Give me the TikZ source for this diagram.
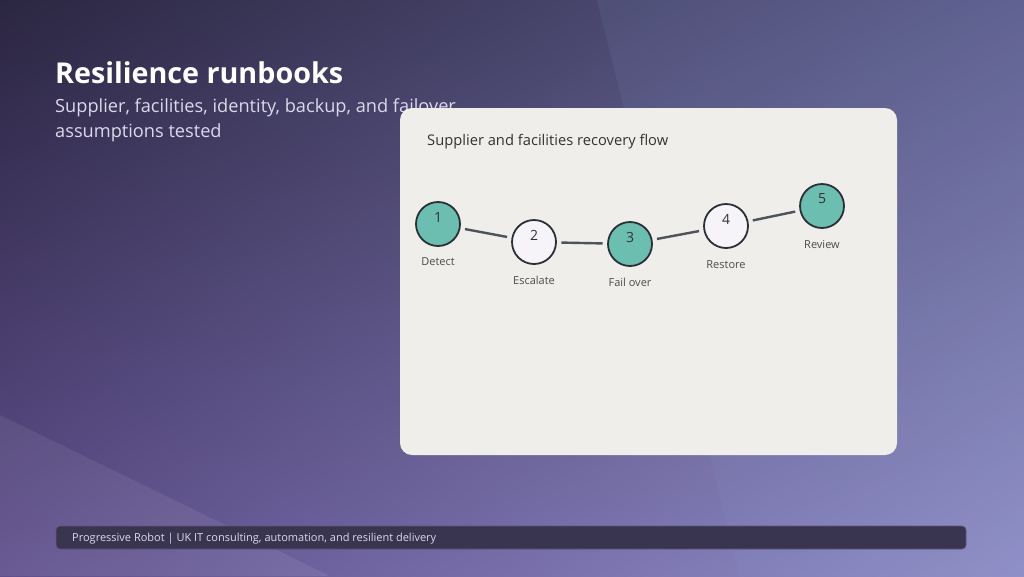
\documentclass[tikz,border=0pt]{standalone}
\usepackage{fontspec}
\usetikzlibrary{shadings}
\setmainfont{Open Sans}
\definecolor{bgUL}{HTML}{2B2641}
\definecolor{bgUR}{HTML}{5C5C8A}
\definecolor{bgLL}{HTML}{5E4E8C}
\definecolor{bgLR}{HTML}{9290C8}
\definecolor{cardfill}{HTML}{EFEEEB}
\definecolor{teal}{HTML}{6BBEB0}
\definecolor{pale}{HTML}{F6F4F9}
\definecolor{ring}{HTML}{2A3036}
\definecolor{connc}{HTML}{4D5359}
\definecolor{footfill}{HTML}{393550}
\definecolor{footdraw}{HTML}{5C5679}
\definecolor{subc}{HTML}{DCD8EC}
\tikzset{
  stepnode/.style={circle, draw=ring, line width=1.8pt, minimum size=44pt, inner sep=0pt},
  tealnode/.style={stepnode, fill=teal},
  palenode/.style={stepnode, fill=pale},
  numtext/.style={font=\fontsize{14}{16}\selectfont, text=black!80},
  steplabel/.style={font=\fontsize{11}{13}\selectfont, text=black!70},
  conn/.style={draw=connc, line width=2.4pt, shorten <=4.5pt, shorten >=4.5pt},
}
\begin{document}
\begin{tikzpicture}[x=1pt,y=-1pt]
\useasboundingbox (0,0) rectangle (1024,576);
% background
\shade[upper left=bgUL, upper right=bgUR, lower left=bgLL, lower right=bgLR] (0,0) rectangle (1024,576);
\fill[fill={rgb,255:red,130;green,150;blue,200}, opacity=0.12] (597,0) -- (1024,0) -- (1024,576) -- (740,576) -- cycle;
\fill[white, opacity=0.07] (0,415) -- (330,576) -- (0,576) -- cycle;
% title
\node[anchor=base west, inner sep=0pt, text=white, font=\fontsize{28.7}{34}\selectfont\bfseries] (title) at (55,83) {Resilience runbooks};
\node[anchor=base west, inner sep=0pt, text=subc, font=\fontsize{18.2}{24}\selectfont] (sub1) at (55,112) {Supplier, facilities, identity, backup, and failover};
\node[anchor=base west, inner sep=0pt, text=subc, font=\fontsize{18.2}{24}\selectfont] (sub2) at (55,137) {assumptions tested};
% card
\fill[cardfill, rounded corners=12pt] (400,108) rectangle (897,455);
\node[anchor=base west, inner sep=0pt, text=black!80, font=\fontsize{14.7}{17}\selectfont] (cardtitle) at (427,145) {Supplier and facilities recovery flow};
% steps
\node[tealnode] (c1) at (438,224) {};
\node[palenode] (c2) at (534,242) {};
\node[tealnode] (c3) at (630,244) {};
\node[palenode] (c4) at (726,226) {};
\node[tealnode] (c5) at (822,206) {};
\draw[conn] (c1) -- (c2);
\draw[conn] (c2) -- (c3);
\draw[conn] (c3) -- (c4);
\draw[conn] (c4) -- (c5);
\node[numtext] (n1) at (438,217) {1};
\node[numtext] (n2) at (534,235) {2};
\node[numtext] (n3) at (630,237) {3};
\node[numtext] (n4) at (726,219) {4};
\node[numtext] (n5) at (822,199) {5};
\node[steplabel] (l1) at (438,262) {Detect};
\node[steplabel] (l2) at (534,280) {Escalate};
\node[steplabel] (l3) at (630,282) {Fail over};
\node[steplabel] (l4) at (726,265) {Restore};
\node[steplabel] (l5) at (822,245) {Review};
% footer
\draw[fill=footfill, draw=footdraw, line width=0.6pt, rounded corners=4pt] (56,526) rectangle (966,549);
\node[anchor=west, inner sep=0pt, text=subc, font=\fontsize{11}{13}\selectfont] (foot) at (72,538.5) {Progressive Robot | UK IT consulting, automation, and resilient delivery};
\end{tikzpicture}
\end{document}
